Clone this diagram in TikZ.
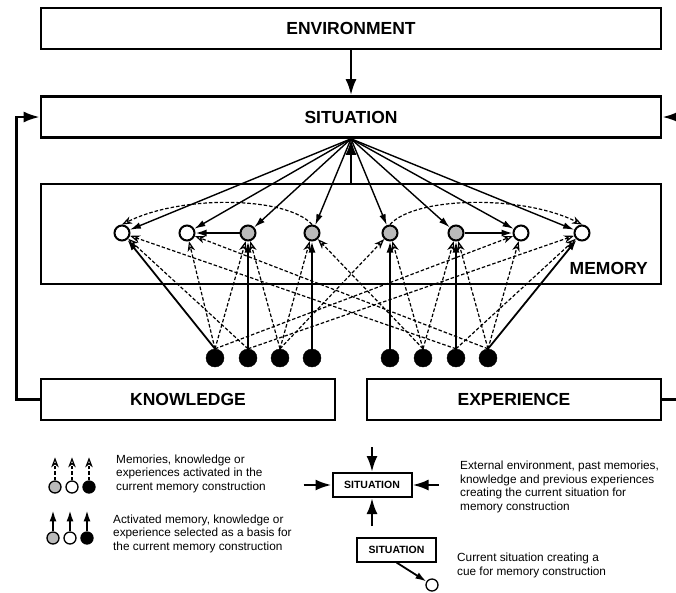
\documentclass[tikz,border=0pt]{standalone}
\usepackage{fontspec}
\setmainfont{Liberation Sans}
\usetikzlibrary{positioning, arrows.meta, calc}

\begin{document}
\begin{tikzpicture}[x=1pt, y=1pt,
    title/.style={font=\fontsize{17.5}{20}\selectfont\bfseries},
    box/.style={draw, line width=2.6pt, inner sep=0pt, title},
    widebox/.style={box, minimum width=620pt, minimum height=41pt},
    halfbox/.style={box, minimum width=294pt, minimum height=41pt},
    smallbox/.style={box, line width=2pt, minimum width=79pt, minimum height=24pt, font=\fontsize{10.5}{12}\selectfont\bfseries},
    memnode/.style={circle, draw, line width=2pt, minimum size=15pt, inner sep=0pt, fill=white},
    actnode/.style={memnode, fill=black!27},
    basenode/.style={circle, draw, fill=black, minimum size=18pt, inner sep=0pt},
    keynode/.style={minimum size=12pt, line width=1.3pt},
    cue/.style={-{Latex[length=11pt, width=6.5pt]}, line width=1.4pt},
    pick/.style={-{Latex[length=11pt, width=7pt]}, line width=1.8pt},
    feed/.style={-{Latex[length=16pt, width=11pt]}, line width=2.6pt},
    act/.style={-{Stealth[open, length=10pt, width=7.5pt, inset=3pt]}, dash pattern=on 3.5pt off 2pt, line width=1.2pt},
    note/.style={font=\fontsize{11.8}{13.5}\selectfont, align=left, anchor=west, inner sep=0pt}
]
\useasboundingbox (0,0) rectangle (676,-592);

% Main boxes
\node[widebox] (env) at (351,-28.5) {ENVIRONMENT};
\node[widebox] (sit) at (351,-117) {SITUATION};
\node[box, minimum width=620pt, minimum height=100pt] (mem) at (351,-234) {};
\node[title, anchor=east, inner sep=0pt] (mem_label) at (648,-268) {MEMORY};
\node[halfbox] (know) at (188,-399.5) {KNOWLEDGE};
\node[halfbox] (expr) at (514,-399.5) {EXPERIENCE};

% Memories
\node[memnode] (mem1) at (122,-233) {};
\node[memnode] (mem2) at (187,-233) {};
\node[actnode] (mem3) at (248,-233) {};
\node[actnode] (mem4) at (312,-233) {};
\node[actnode] (mem5) at (390,-233) {};
\node[actnode] (mem6) at (456,-233) {};
\node[memnode] (mem7) at (521,-233) {};
\node[memnode] (mem8) at (582,-233) {};

% Knowledge and experience
\node[basenode] (kn1) at (215,-358) {};
\node[basenode] (kn2) at (248,-358) {};
\node[basenode] (kn3) at (280,-358) {};
\node[basenode] (kn4) at (312,-358) {};
\node[basenode] (ex1) at (390,-358) {};
\node[basenode] (ex2) at (423,-358) {};
\node[basenode] (ex3) at (456,-358) {};
\node[basenode] (ex4) at (488,-358) {};

% Situation inputs
\draw[feed] (env) -- (sit);
\draw[feed] (mem.north) -- (sit.south);
\draw[feed] (know.west) -- ++(-23,0) |- (sit.west);
\draw[feed] (expr.east) -- ++(18,0) |- (sit.east);

% Cues from the situation
\draw[cue] (sit.south) -- (mem1);
\draw[cue] (sit.south) -- (mem2);
\draw[cue] (sit.south) -- (mem3);
\draw[cue] (sit.south) -- (mem4);
\draw[cue] (sit.south) -- (mem5);
\draw[cue] (sit.south) -- (mem6);
\draw[cue] (sit.south) -- (mem7);
\draw[cue] (sit.south) -- (mem8);

% Spreading between memories
\draw[pick] (mem3) -- (mem2);
\draw[pick] (mem6) -- (mem7);
\draw[act] (mem4.north) .. controls +(-25,28) and +(60,30) .. (mem1.north);
\draw[act] (mem5.north) .. controls +(25,28) and +(-60,30) .. (mem8.north);

% Selected as a basis
\draw[pick] (kn1.north) -- (mem1);
\draw[pick] (kn2.north) -- (mem3);
\draw[pick] (kn4.north) -- (mem4);
\draw[pick] (ex1.north) -- (mem5);
\draw[pick] (ex3.north) -- (mem6);
\draw[pick] (ex4.north) -- (mem8);

% Activated
\draw[act] (kn1.north) -- (mem2);
\draw[act] (kn1.north) -- (mem3);
\draw[act] (kn1.north) -- (mem7);
\draw[act] (kn2.north) -- (mem1);
\draw[act] (kn2.north) -- (mem8);
\draw[act] (kn3.north) -- (mem3);
\draw[act] (kn3.north) -- (mem4);
\draw[act] (kn3.north) -- (mem5);
\draw[act] (ex2.north) -- (mem4);
\draw[act] (ex2.north) -- (mem5);
\draw[act] (ex2.north) -- (mem6);
\draw[act] (ex3.north) -- (mem1);
\draw[act] (ex3.north) -- (mem8);
\draw[act] (ex4.north) -- (mem2);
\draw[act] (ex4.north) -- (mem6);
\draw[act] (ex4.north) -- (mem7);

% Key: activated
\node[actnode, keynode] (key_act1) at (55,-487) {};
\node[memnode, keynode] (key_act2) at (72,-487) {};
\node[basenode, keynode] (key_act3) at (89,-487) {};
\coordinate[above=23pt of key_act1] (key_act1_tip);
\coordinate[above=23pt of key_act2] (key_act2_tip);
\coordinate[above=23pt of key_act3] (key_act3_tip);
\draw[act] (key_act1) -- (key_act1_tip);
\draw[act] (key_act2) -- (key_act2_tip);
\draw[act] (key_act3) -- (key_act3_tip);
\node[note] (key_note1) at (116,-473.5) {Memories, knowledge or\\experiences activated in the\\current memory construction};

% Key: selected
\node[actnode, keynode] (key_sel1) at (53,-538) {};
\node[memnode, keynode] (key_sel2) at (70,-538) {};
\node[basenode, keynode] (key_sel3) at (87,-538) {};
\coordinate[above=21pt of key_sel1] (key_sel1_tip);
\coordinate[above=21pt of key_sel2] (key_sel2_tip);
\coordinate[above=21pt of key_sel3] (key_sel3_tip);
\draw[pick] (key_sel1) -- (key_sel1_tip);
\draw[pick] (key_sel2) -- (key_sel2_tip);
\draw[pick] (key_sel3) -- (key_sel3_tip);
\node[note] (key_note2) at (113,-533.5) {Activated memory, knowledge or\\experience selected as a basis for\\the current memory construction};

% Key: situation
\node[smallbox] (key_sit) at (372,-485) {SITUATION};
\coordinate[above=25pt of key_sit] (key_sit_top);
\coordinate[below=28pt of key_sit] (key_sit_bottom);
\coordinate[left=28pt of key_sit] (key_sit_left);
\coordinate[right=26pt of key_sit] (key_sit_right);
\draw[feed] (key_sit_top) -- (key_sit);
\draw[feed] (key_sit_bottom) -- (key_sit);
\draw[feed] (key_sit_left) -- (key_sit);
\draw[feed] (key_sit_right) -- (key_sit);
\node[note] (key_note3) at (460,-487) {External environment, past memories,\\knowledge and previous experiences\\creating the current situation for\\memory construction};

% Key: cue
\node[smallbox] (key_cue) at (396.5,-549.5) {SITUATION};
\node[memnode, keynode] (key_cue_mem) at (432,-585) {};
\draw[pick] (key_cue.south) -- (key_cue_mem);
\node[note] (key_note4) at (457,-565.5) {Current situation creating a\\cue for memory construction};

\end{tikzpicture}
\end{document}
